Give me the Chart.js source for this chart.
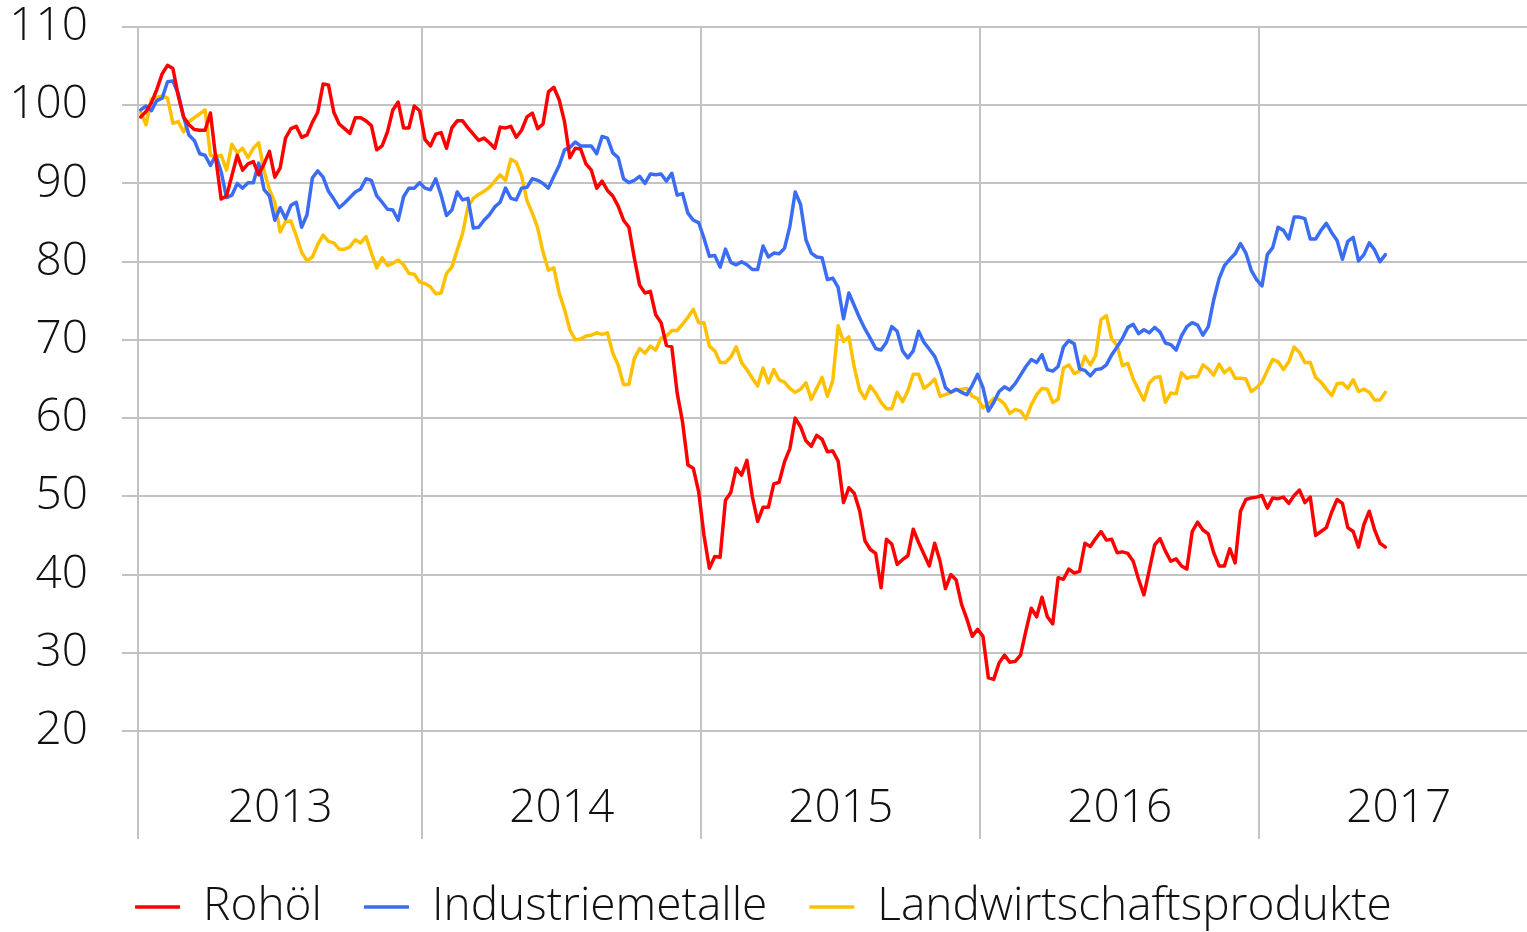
<!DOCTYPE html>
<html>
<head>
<meta charset="utf-8">
<script src="https://cdn.jsdelivr.net/npm/chart.js@4.4.1/dist/chart.umd.min.js"></script>
<style>
  html, body { margin: 0; padding: 0; background: #ffffff; overflow: hidden; }
  #wrap { position: relative; width: 1527px; height: 932px; }
</style>
</head>
<body>
<div id="wrap"><canvas id="rohstoff_chart"></canvas></div>
<script>
// weekly index values, first week of 2013 = ~100
const years = ["2013", "2014", "2015", "2016", "2017"];
const weeksPerYear = [53, 52, 52, 52, 52];

const rohoel = [
  98.5, 99.2, 100.3, 102, 104, 105.1, 104.7, 101.2, 98.5, 97.5,
  96.9, 96.8, 96.8, 99, 93.2, 88, 88.4, 91, 93.6, 91.7,
  92.5, 92.8, 91.1, 92.5, 94.1, 90.8, 92, 95.8, 97, 97.3,
  95.9, 96.2, 97.8, 99.1, 102.7, 102.6, 99.1, 97.6, 97, 96.4,
  98.4, 98.4, 98, 97.4, 94.3, 94.8, 96.6, 99.4, 100.4, 97.1,
  97.1, 99.9, 99.3, 95.6, 94.8, 96.3, 96.5, 94.5, 97.1, 98,
  98, 97.1, 96.3, 95.5, 95.8, 95.2, 94.5, 97.2, 97.1, 97.3,
  95.9, 96.8, 98.5, 99, 97, 97.6, 101.7, 102.3, 100.7, 97.9,
  93.3, 94.5, 94.4, 92.5, 91.7, 89.4, 90.3, 89.1, 88.4, 87.1,
  85.3, 84.4, 80.5, 77, 76, 76.2, 73.2, 72.2, 69.3, 69.1,
  63.2, 59.5, 54, 53.6, 50.6, 45, 40.8, 42.3, 42.2, 49.5,
  50.5, 53.6, 52.7, 54.6, 50, 46.8, 48.6, 48.6, 51.6, 51.8,
  54.4, 56.1, 60, 58.9, 57.1, 56.4, 57.8, 57.3, 55.7, 55.8,
  54.5, 49.2, 51.1, 50.4, 48.2, 44.3, 43.2, 42.7, 38.3, 44.5,
  43.9, 41.3, 41.9, 42.4, 45.8, 44.1, 42.6, 41.1, 44, 41.7,
  38.2, 40, 39.3, 36.2, 34.3, 32.1, 33, 32.1, 26.8, 26.6,
  28.7, 29.7, 28.8, 28.9, 29.7, 32.8, 35.7, 34.6, 37.1, 34.6,
  33.7, 39.6, 39.4, 40.7, 40.2, 40.4, 44, 43.6, 44.6, 45.5,
  44.4, 44.5, 42.8, 42.9, 42.7, 41.7, 39.4, 37.4, 40.6, 43.8,
  44.6, 43, 41.7, 42, 41.1, 40.7, 45.5, 46.7, 45.7, 45.2,
  42.8, 41.1, 41.1, 43.3, 41.5, 48.1, 49.6, 49.8, 49.9, 50.1,
  48.5, 49.8, 49.7, 49.9, 49.1, 50.1, 50.8, 49.2, 49.9, 45,
  45.5, 46, 48, 49.6, 49.1, 46, 45.5, 43.5, 46.4, 48.1,
  45.7, 44, 43.5
];

const industriemetalle = [
  99.4, 99.9, 99.3, 100.6, 100.9, 103, 103.1, 101.5, 98.5, 96.2,
  95.5, 93.8, 93.6, 92.3, 93.6, 91.5, 88.2, 88.5, 90, 89.4,
  90.1, 90.1, 92.6, 89.2, 88.4, 85.3, 86.9, 85.5, 87.2, 87.6,
  84.4, 86, 90.7, 91.6, 90.8, 89, 88, 86.9, 87.5, 88.2,
  88.9, 89.3, 90.6, 90.4, 88.4, 87.6, 86.7, 86.6, 85.3, 88.3,
  89.4, 89.4, 90.1, 89.4, 89.2, 90.6, 88.5, 85.9, 86.6, 88.9,
  87.9, 88.1, 84.3, 84.4, 85.3, 86, 87, 87.6, 89.4, 88.1,
  87.9, 89.4, 89.5, 90.6, 90.4, 90, 89.4, 90.9, 92.3, 94.3,
  94.6, 95.3, 94.8, 94.8, 94.8, 93.8, 96, 95.8, 93.9, 93.3,
  90.6, 90.1, 90.4, 90.9, 90, 91.2, 91.1, 91.2, 90.3, 91.3,
  88.5, 88.7, 86.2, 85.3, 85, 83, 80.7, 80.8, 79.3, 81.6,
  79.9, 79.6, 80, 79.6, 79, 79, 82, 80.6, 81.1, 81,
  81.7, 84.5, 88.9, 87.3, 82.8, 81.1, 80.6, 80.5, 77.7, 77.9,
  76.7, 72.7, 76, 74.4, 72.8, 71.4, 70.2, 68.9, 68.7, 69.7,
  71.7, 71.1, 68.6, 67.7, 68.6, 71.1, 69.7, 68.8, 67.9, 66.2,
  63.9, 63.3, 63.7, 63.3, 63, 64.2, 65.6, 63.9, 60.9, 62,
  63.4, 64, 63.6, 64.4, 65.5, 66.6, 67.5, 67.1, 68.1, 66.2,
  66, 66.6, 69.1, 69.9, 69.5, 66.3, 66.1, 65.4, 66.2, 66.3,
  66.8, 68.1, 69.1, 70.2, 71.6, 72, 70.8, 71.3, 70.9, 71.6,
  71, 69.6, 69.4, 68.7, 70.5, 71.7, 72.2, 71.9, 70.6, 71.7,
  75.1, 77.8, 79.5, 80.3, 81, 82.3, 81.1, 78.9, 77.7, 76.9,
  80.9, 81.8, 84.4, 84, 82.9, 85.7, 85.7, 85.5, 82.9, 82.9,
  84, 84.9, 83.7, 82.7, 80.3, 82.6, 83.1, 80.1, 80.9, 82.4,
  81.5, 80, 80.9
];

const landwirtschaft = [
  99.1, 97.5, 100.8, 101, 101.2, 100.9, 97.7, 97.9, 96.6, 97.9,
  98.4, 98.9, 99.4, 93.6, 93.4, 93.6, 91.7, 95, 93.9, 94.5,
  93.3, 94.5, 95.2, 91.6, 89.2, 87.6, 83.8, 85.1, 85.2, 83.3,
  81.2, 80.1, 80.6, 82.2, 83.4, 82.6, 82.4, 81.6, 81.6, 81.9,
  82.8, 82.4, 83.2, 81.1, 79.2, 80.5, 79.5, 79.8, 80.2, 79.6,
  78.5, 78.4, 77.4, 77.2, 76.8, 75.9, 76, 78.5, 79.3, 81.5,
  83.6, 87, 88.1, 88.6, 89, 89.5, 90.3, 91.1, 90.4, 93.1,
  92.7, 91, 87.8, 86.2, 84.3, 81.2, 78.9, 79.2, 76, 73.9,
  71.3, 70, 70.1, 70.5, 70.6, 70.9, 70.7, 70.9, 68.3, 66.8,
  64.3, 64.3, 67.6, 68.9, 68.3, 69.2, 68.7, 70.2, 70.5, 71.2,
  71.2, 72, 72.9, 73.9, 72.2, 72.2, 69.2, 68.6, 67.1, 67.1,
  67.8, 69.1, 67.1, 66.2, 65.1, 64.1, 66.4, 64.5, 66.2, 64.9,
  64.6, 63.8, 63.3, 63.7, 64.5, 62.4, 63.8, 65.2, 62.8, 64.8,
  71.8, 69.8, 70.4, 66.5, 63.6, 62.5, 64.1, 63.2, 62, 61.2,
  61.2, 63.3, 62.1, 63.5, 65.6, 65.6, 63.8, 64.3, 65, 62.8,
  63, 63.3, 63.6, 63.7, 63.8, 62.8, 62.5, 61.3, 61.8, 62.5,
  62.4, 61.8, 60.6, 61.1, 60.9, 59.9, 61.7, 63, 63.8, 63.7,
  62, 62.4, 66.4, 66.8, 65.7, 66, 67.9, 66.8, 68, 72.6,
  73.1, 70.1, 69.3, 66.7, 67, 65, 63.6, 62.3, 64.5, 65.2,
  65.3, 62, 63.2, 63.1, 65.8, 65.1, 65.3, 65.3, 66.8, 66.3,
  65.5, 66.9, 65.8, 66.4, 65.1, 65.1, 65, 63.4, 63.9, 64.6,
  66.1, 67.5, 67.2, 66.2, 67.2, 69.1, 68.4, 67.1, 67.1, 65.2,
  64.6, 63.7, 62.9, 64.4, 64.5, 63.8, 64.9, 63.4, 63.7, 63.3,
  62.3, 62.3, 63.3
];

// year boundaries and label positions on the week axis
let yearStart = [];
let yearMid = [];
let acc = 0;
for (let i = 0; i < years.length; i++) {
  yearStart.push(acc - 0.5);
  yearMid.push(acc - 0.5 + weeksPerYear[i] / 2);
  acc += weeksPerYear[i];
}

function toPoints(values) {
  return values.map((v, i) => ({ x: i, y: v }));
}

const fontFamily = "'Open Sans', 'DejaVu Sans', sans-serif";
const gridColor = "#c3c3c3";

const ctx = document.getElementById("rohstoff_chart");

new Chart(ctx, {
  type: "line",
  data: {
    datasets: [
      {
        label: "Rohöl",
        data: toPoints(rohoel),
        borderColor: "#ff0000",
        backgroundColor: "#ff0000",
        borderWidth: 3.5,
      },
      {
        label: "Industriemetalle",
        data: toPoints(industriemetalle),
        borderColor: "#3a6cf4",
        backgroundColor: "#3a6cf4",
        borderWidth: 3.5,
      },
      {
        label: "Landwirtschaftsprodukte",
        data: toPoints(landwirtschaft),
        borderColor: "#ffc000",
        backgroundColor: "#ffc000",
        borderWidth: 3.5,
      },
    ],
  },
  options: {
    responsive: true,
    maintainAspectRatio: false,
    animation: false,
    elements: {
      point: { radius: 0 },
      line: { tension: 0, borderJoinStyle: "round", borderCapStyle: "round" },
    },
    layout: {
      padding: { top: 27, left: 0, right: 0, bottom: 0 },
    },
    scales: {
      x: {
        type: "linear",
        min: -0.5,
        max: 258.4,
        border: { display: false },
        afterBuildTicks: function (scale) {
          let all = yearStart.concat(yearMid).sort((a, b) => a - b);
          scale.ticks = all.map((v) => ({ value: v }));
        },
        afterFit: function (scale) {
          scale.height = 111;
        },
        grid: {
          color: function (c) {
            if (c.tick && yearStart.indexOf(c.tick.value) >= 0) return gridColor;
            return "rgba(0,0,0,0)";
          },
          lineWidth: 2,
          tickLength: 108,
        },
        ticks: {
          autoSkip: false,
          maxRotation: 0,
          minRotation: 0,
          padding: -53,
          color: "#111111",
          font: { family: fontFamily, size: 46, weight: "300", lineHeight: 1 },
          callback: function (value) {
            let k = yearMid.indexOf(value);
            return k >= 0 ? years[k] : "";
          },
        },
      },
      y: {
        min: 20,
        max: 110,
        border: { display: false },
        afterFit: function (scale) {
          scale.width = 138;
          scale.paddingTop = 0;
          scale.paddingBottom = 0;
        },
        grid: {
          color: gridColor,
          lineWidth: 2,
          tickLength: 16,
        },
        ticks: {
          stepSize: 10,
          padding: 34,
          color: "#111111",
          font: { family: fontFamily, size: 46, weight: "300" },
        },
      },
    },
    plugins: {
      tooltip: { enabled: false },
      legend: {
        position: "bottom",
        maxHeight: 90,
        labels: {
          usePointStyle: true,
          pointStyle: "line",
          pointStyleWidth: 45,
          padding: 42,
          color: "#111111",
          font: { family: fontFamily, size: 46, weight: "300" },
        },
      },
    },
  },
});
</script>
</body>
</html>
